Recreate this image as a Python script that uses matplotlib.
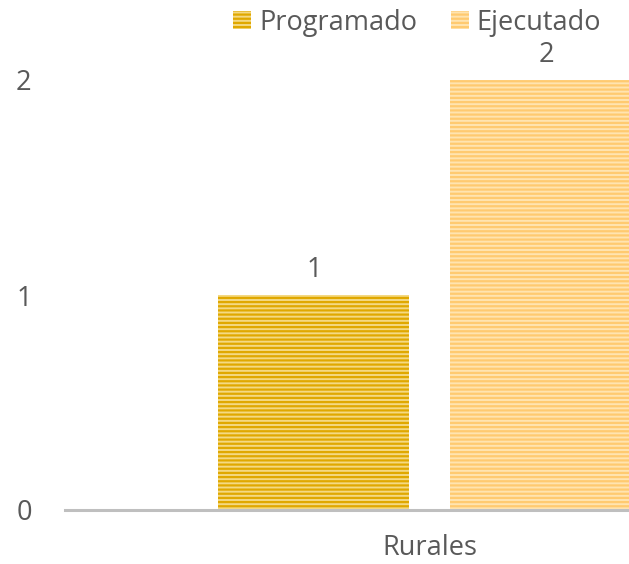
import matplotlib
matplotlib.use("Agg")
import matplotlib.pyplot as plt
import numpy as np

categories = ["Rurales"]
series_names = ["Programado", "Ejecutado"]
programado = [1]
ejecutado = [2]
yticks = [0, 1, 2]

plt.rcParams['font.family'] = ['Open Sans', 'DejaVu Sans']
plt.rcParams['hatch.linewidth'] = 1.6

fig = plt.figure(figsize=(6.29, 5.64), dpi=100)
ax = fig.add_axes([65/629, 1-510/564, 730/629, 473/564])

x = np.arange(len(categories))
w = 191/730
off = 116/730
txt = '#595959'
fs = 19.5

b1 = ax.bar(x - off, programado, w, color='#F4D983', edgecolor='#E0A800',
            hatch='----', linewidth=0, label=series_names[0])
b2 = ax.bar(x + off, ejecutado, w, color='#FFE4B0', edgecolor='#FFCA70',
            hatch='----', linewidth=0, label=series_names[1])

for bars, vals in [(b1, programado), (b2, ejecutado)]:
    for r, v in zip(bars, vals):
        ax.annotate(str(v), (r.get_x() + r.get_width()/2, v), xytext=(0, 8),
                    textcoords='offset points', ha='center', va='bottom',
                    fontsize=fs, color=txt, annotation_clip=False)

ax.set_xlim(-0.5, 0.5)
ax.set_ylim(0, 2.2)
ax.set_yticks(yticks)
ax.set_yticklabels([str(t) for t in yticks])
ax.set_xticks(x)
ax.set_xticklabels(categories)
ax.tick_params(axis='both', length=0, labelsize=fs, labelcolor=txt)
ax.tick_params(axis='y', pad=24)
ax.tick_params(axis='x', pad=17)
for s in ['top', 'right', 'left']:
    ax.spines[s].set_visible(False)
ax.spines['bottom'].set_color('#BFBFBF')
ax.spines['bottom'].set_linewidth(2.2)

fig.legend(loc='upper left', bbox_to_anchor=(209/629, 1.028), ncol=2, frameon=False,
           fontsize=fs, labelcolor=txt, handlelength=0.65, handleheight=0.65,
           handletextpad=0.3, columnspacing=1.25)

fig.savefig('out.png', dpi=100)
